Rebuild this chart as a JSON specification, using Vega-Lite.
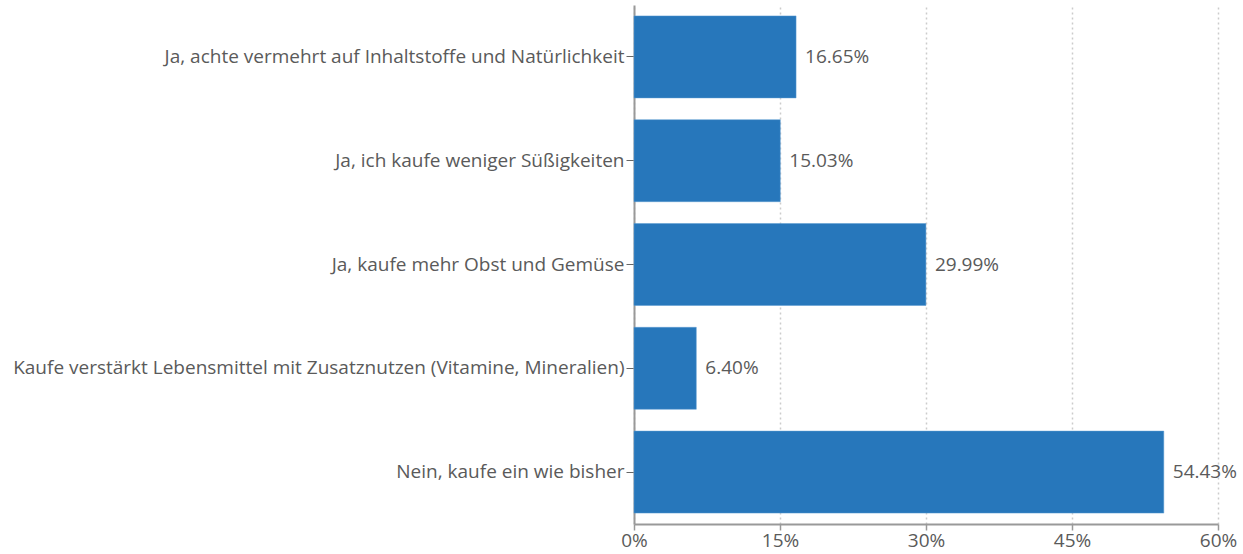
{
  "$schema": "https://vega.github.io/schema/vega-lite/v6.json",
  "autosize": "none",
  "padding": {"left": 634, "top": 5, "right": 25, "bottom": 30},
  "width": 584,
  "height": 519,
  "background": "white",
  "config": {
    "view": {"stroke": null},
    "font": "Open Sans"
  },
  "data": {
    "values": [
      {"answer": "Ja, achte vermehrt auf Inhaltstoffe und Natürlichkeit", "share": 16.65},
      {"answer": "Ja, ich kaufe weniger Süßigkeiten", "share": 15.03},
      {"answer": "Ja, kaufe mehr Obst und Gemüse", "share": 29.99},
      {"answer": "Kaufe verstärkt Lebensmittel mit Zusatznutzen (Vitamine, Mineralien)", "share": 6.40},
      {"answer": "Nein, kaufe ein wie bisher", "share": 54.43}
    ]
  },
  "encoding": {
    "y": {
      "field": "answer",
      "type": "nominal",
      "sort": null,
      "scale": {"paddingInner": 0.21, "paddingOuter": 0.105},
      "axis": {
        "title": null,
        "domainColor": "#999999",
        "domainWidth": 2,
        "tickColor": "#666666",
        "tickSize": 8,
        "labelColor": "#5a5a5a",
        "labelFontSize": 19,
        "labelPadding": 2,
        "labelLimit": 700,
        "labelFont": "Open Sans"
      }
    },
    "x": {
      "field": "share",
      "type": "quantitative",
      "scale": {"domain": [0, 60], "nice": false},
      "axis": {
        "title": null,
        "values": [0, 15, 30, 45, 60],
        "labelExpr": "datum.value + '%'",
        "labelFlush": false,
        "domainColor": "#999999",
        "domainWidth": 2,
        "tickColor": "#999999",
        "tickSize": 6,
        "tickWidth": 1.5,
        "labelColor": "#5a5a5a",
        "labelFontSize": 19,
        "labelPadding": 1,
        "labelFont": "Open Sans",
        "grid": true,
        "gridColor": "#cccccc",
        "gridDash": [2, 3],
        "gridWidth": 1.5
      }
    }
  },
  "layer": [
    {
      "mark": {"type": "bar", "color": "#2777bb", "stroke": "#5b9ad0", "strokeWidth": 0.5}
    },
    {
      "mark": {"type": "text", "align": "left", "dx": 9, "fontSize": 19, "color": "#5a5a5a", "font": "Open Sans"},
      "encoding": {
        "text": {"field": "label", "type": "nominal"}
      },
      "transform": [
        {"calculate": "format(datum.share, '.2f') + '%'", "as": "label"}
      ]
    }
  ]
}
